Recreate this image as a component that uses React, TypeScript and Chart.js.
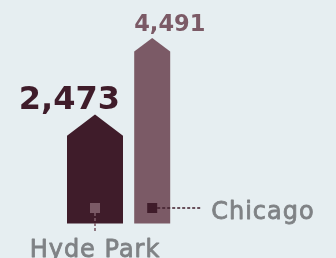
import React, { useEffect, useRef } from "react";
import { Chart, registerables } from "chart.js";

Chart.register(...registerables);

const categories = ["Hyde Park", "Chicago"];
const values = [2473, 4491];
const barColors = ["#3f1c2a", "#7b5a66"];
const markerColors = ["#7b5a66", "#3f1c2a"];
const barWidths = [56, 36];
const yMax = 5000;

const BG = "#e6eef1";
const GREY = "#7f8285";

const housePlugin = {
  id: "house",
  beforeDraw(chart: any) {
    const ctx = chart.ctx;
    ctx.save();
    ctx.fillStyle = BG;
    ctx.fillRect(0, 0, chart.width, chart.height);
    ctx.restore();
  },
  afterDatasetsDraw(chart: any) {
    const ctx = chart.ctx;
    ctx.save();
    chart.data.datasets.forEach((ds: any, i: number) => {
      const meta = chart.getDatasetMeta(i);
      const el = meta.data[i];
      if (!el) return;
      const { x, y, base, width } = el.getProps(["x", "y", "base", "width"], true);
      const h = width * 0.38;
      const left = x - width / 2;
      const right = x + width / 2;
      const shoulder = y + h / 2;
      const peak = y - h / 2;
      ctx.fillStyle = barColors[i];
      ctx.beginPath();
      ctx.moveTo(left, base);
      ctx.lineTo(left, shoulder);
      ctx.lineTo(x, peak);
      ctx.lineTo(right, shoulder);
      ctx.lineTo(right, base);
      ctx.closePath();
      ctx.fill();

      // value label
      const txt = values[i].toLocaleString("en-US");
      ctx.fillStyle = barColors[i];
      ctx.textBaseline = "alphabetic";
      if (i === 0) {
        ctx.font = "bold 32px 'DejaVu Sans'";
        ctx.textAlign = "right";
        ctx.fillText(txt, right - 3, peak - 5.5);
      } else {
        ctx.font = "bold 22.5px 'DejaVu Sans'";
        ctx.textAlign = "left";
        ctx.fillText(txt, left, peak - 7);
      }

      // marker
      const my = base - 15.5;
      ctx.fillStyle = markerColors[i];
      ctx.fillRect(x - 5, my - 5, 10, 10);
      ctx.strokeStyle = markerColors[i];
      ctx.lineWidth = 1.6;
      ctx.setLineDash([3, 2]);
      ctx.beginPath();
      if (i === 0) {
        ctx.moveTo(x, my + 5);
        ctx.lineTo(x, my + 23);
      } else {
        ctx.moveTo(x + 5, my);
        ctx.lineTo(x + 50, my);
      }
      ctx.stroke();
      ctx.setLineDash([]);

      ctx.font = "24px 'DejaVu Sans'";
      (ctx as any).letterSpacing = "1px";
      ctx.fillStyle = GREY;
      ctx.strokeStyle = GREY;
      ctx.lineWidth = 0.8;
      ctx.lineJoin = "round";
      let tx: number, ty: number;
      if (i === 0) {
        ctx.textAlign = "center";
        tx = x;
        ty = 256.5;
      } else {
        ctx.textAlign = "left";
        tx = x + 59;
        ty = my + 10.5;
      }
      ctx.fillText(categories[i], tx, ty);
      ctx.strokeText(categories[i], tx, ty);
      (ctx as any).letterSpacing = "0px";
    });
    ctx.restore();
  },
};

export default function App() {
  const ref = useRef<HTMLCanvasElement>(null);
  useEffect(() => {
    if (!ref.current) return;
    const chart = new Chart(ref.current, {
      type: "bar",
      data: {
        labels: categories,
        datasets: categories.map((c, i) => ({
          label: c,
          data: values.map((v, j) => (j === i ? v : null)),
          backgroundColor: "rgba(0,0,0,0)",
          borderWidth: 0,
          barThickness: barWidths[i],
          skipNull: true,
        })),
      },
      options: {
        animation: false,
        responsive: false,
        devicePixelRatio: 1,
        layout: { padding: { left: 66.4, right: 155.2, top: 24.5, bottom: 34.5 } },
        plugins: { legend: { display: false }, tooltip: { enabled: false } },
        scales: {
          x: { display: false },
          y: { display: false, min: 0, max: yMax },
        },
      },
      plugins: [housePlugin],
    } as any);
    return () => chart.destroy();
  }, []);
  return (
    <div style={{ position: "fixed", left: 0, top: 0, width: 336, height: 258, background: BG }}>
      <canvas ref={ref} width={336} height={258} style={{ display: "block" }} />
    </div>
  );
}
